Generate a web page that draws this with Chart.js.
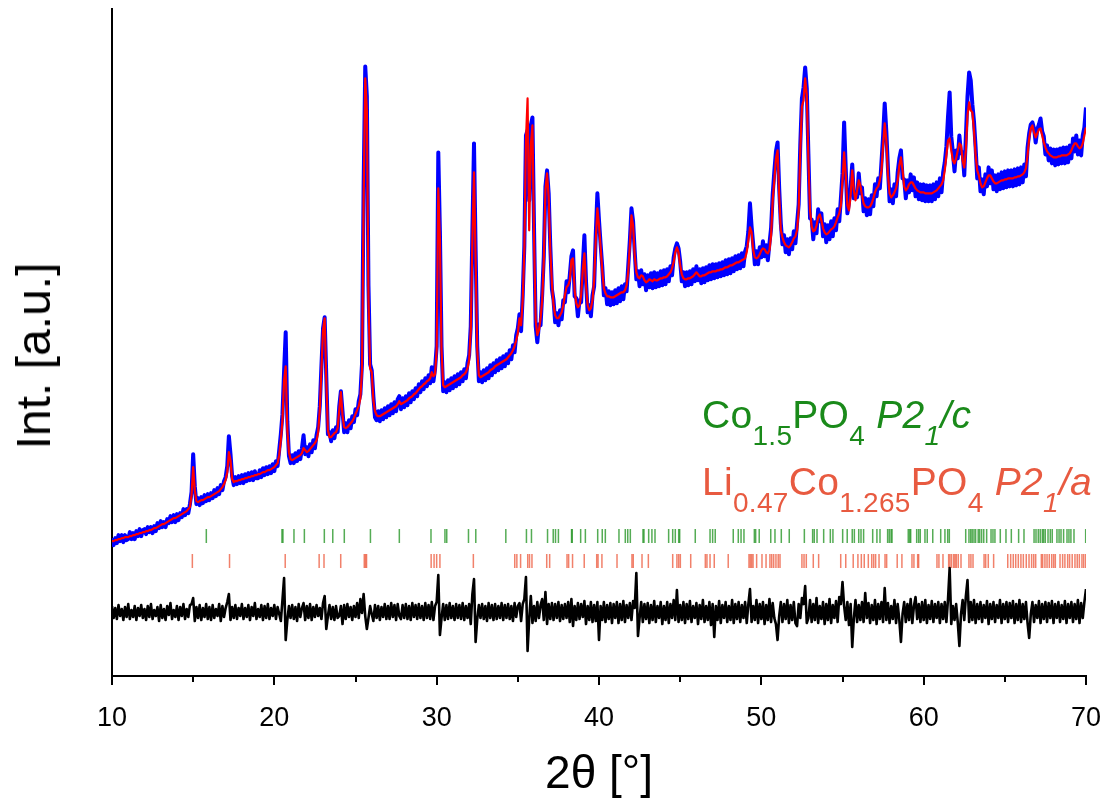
<!DOCTYPE html>
<html>
<head>
<meta charset="utf-8">
<script src="https://cdn.jsdelivr.net/npm/chart.js@4.4.0/dist/chart.umd.min.js"></script>
<style>
  html, body { margin: 0; padding: 0; background: #fff; }
  #wrap { position: relative; width: 1110px; height: 800px; font-family: "Liberation Sans", Arial, sans-serif; }
  #wrap canvas { position: absolute; left: 0; top: 0; }
  .lbl { position: absolute; white-space: nowrap; line-height: 1; color: #000; }
  .axis-x { left: 112px; width: 974px; top: 749px; text-align: center; font-size: 46px; }
  .axis-y { left: 34px; top: 356px; font-size: 48px; transform: translate(-50%, -50%) rotate(-90deg); }
  .phase { left: 702px; font-size: 39px; letter-spacing: 0.3px; }
  .phase sub { font-size: 28px; line-height: 0; vertical-align: -17px; }
  .co15 { top: 395px; color: #1a8a1a; }
  .lico { top: 462px; color: #e85a40; }
</style>
</head>
<body>
<div id="wrap">
  <canvas id="xrd" width="1110" height="800"></canvas>
  <div class="lbl axis-x">2θ [°]</div>
  <div class="lbl axis-y">Int. [a.u.]</div>
  <div class="lbl phase co15">Co<sub>1.5</sub>PO<sub>4</sub> <i>P2<sub>1</sub>/c</i></div>
  <div class="lbl phase lico">Li<sub>0.47</sub>Co<sub>1.265</sub>PO<sub>4</sub> <i>P2<sub>1</sub>/a</i></div>
</div>
<script>
// Rietveld refinement: observed, calculated and difference profiles,
// scan from 10° to 70° 2θ at 0.1° steps (intensities in arbitrary units).
const scanStart = 10;
const scanStep = 0.1;

const yObs = [
  138,131,138,133,141,135,141,134,141,136,
  137,144,137,143,137,145,140,147,140,146,
  147,142,149,144,149,143,150,145,153,148,
  155,149,154,149,157,153,160,154,161,154,
  162,156,163,159,167,161,167,163,172,184,
  222,190,172,178,171,179,173,181,175,182,
  176,183,178,186,180,188,182,191,186,195,
  199,210,240,222,200,191,199,192,200,193,
  201,193,202,195,203,196,204,196,205,198,
  198,206,199,208,201,209,202,210,203,212,
  205,215,210,226,242,262,305,344,255,220,
  213,221,213,223,215,225,217,228,241,222,
  229,220,232,224,236,228,241,249,270,310,
  348,359,300,242,244,235,246,238,249,244,
  270,285,265,244,253,244,256,248,260,254,
  267,261,275,282,312,490,610,580,390,312,
  306,280,259,256,265,255,266,257,268,259,
  270,261,272,263,274,265,277,280,267,278,
  269,280,271,283,274,285,277,288,280,292,
  284,295,287,298,290,301,293,309,295,307,
  330,524,445,330,285,294,284,296,286,298,
  288,300,290,302,292,304,295,307,298,313,
  321,350,445,533,425,330,295,304,294,306,
  296,308,298,311,301,313,304,316,306,318,
  308,320,310,322,313,326,317,331,324,341,
  348,362,345,381,430,541,546,476,551,559,
  446,350,334,352,351,382,420,490,506,483,
  430,387,376,354,363,351,366,357,376,374,
  395,384,401,420,426,380,378,360,376,374,
  410,441,395,364,371,360,381,390,442,483,
  456,432,410,381,388,372,385,371,384,372,
  386,373,388,375,390,377,392,385,410,436,
  468,455,425,397,405,390,406,392,402,386,
  401,389,403,388,404,389,403,390,405,391,
  406,392,407,395,410,401,419,428,433,428,
  415,395,404,390,404,391,405,392,407,395,
  410,396,407,393,408,394,409,396,411,397,
  412,398,412,399,413,400,414,401,416,402,
  417,403,418,405,420,407,421,408,423,410,
  425,430,445,473,450,432,412,425,412,429,
  419,435,420,431,416,433,448,482,505,525,
  534,488,453,432,441,424,437,422,438,427,
  445,433,453,472,532,578,589,609,588,522,
  458,457,437,454,443,467,455,463,440,452,
  434,451,437,455,440,458,446,467,455,478,
  503,554,508,463,474,489,512,478,484,479,
  503,483,489,465,478,461,477,462,481,470,
  492,480,498,488,514,540,573,545,508,475,
  487,473,492,480,504,518,526,498,497,478,
  496,484,502,486,499,480,494,477,492,476,
  492,475,491,475,491,475,492,477,494,480,
  498,484,504,514,530,560,584,540,524,505,
  526,518,541,523,524,501,540,580,604,596,
  572,555,529,498,509,485,497,482,502,490,
  509,493,506,487,501,485,502,487,504,488,
  505,489,506,490,506,490,507,491,508,492,
  509,494,512,500,529,543,552,554,548,534,
  547,552,558,545,540,522,531,516,528,513,
  527,511,527,512,528,513,529,513,529,514,
  531,518,538,525,541,522,536,521,541,549,
  569
];

const yCalc = [
  135,135,136,136,137,137,138,138,139,139,
  139,140,140,141,141,142,142,143,143,144,
  144,145,145,146,146,147,148,148,149,150,
  151,152,152,153,154,155,156,157,158,158,
  159,160,161,162,163,164,165,167,169,181,
  209,186,175,174,175,176,176,177,178,179,
  179,180,181,182,183,184,185,187,189,192,
  196,204,224,216,197,194,195,195,196,196,
  197,197,198,198,199,199,200,200,201,201,
  202,202,203,204,204,205,206,206,207,208,
  209,211,213,221,236,256,296,310,246,224,
  217,216,217,218,219,220,221,223,228,226,
  224,225,227,229,231,233,236,244,266,306,
  346,358,296,246,239,239,241,243,244,248,
  266,284,261,249,248,249,251,253,255,258,
  262,266,270,278,306,476,598,566,376,308,
  304,276,265,261,260,260,261,262,263,264,
  265,266,267,268,269,270,272,275,272,273,
  274,275,276,278,279,280,282,283,285,287,
  289,290,292,293,295,296,298,304,300,302,
  326,488,436,326,291,289,290,291,292,293,
  294,295,296,297,298,299,301,302,304,308,
  316,346,436,504,416,326,301,299,300,301,
  302,303,304,306,307,308,310,311,312,313,
  314,315,316,317,319,321,323,326,330,336,
  343,358,351,376,426,536,578,446,531,551,
  436,356,341,346,358,376,416,486,503,479,
  426,393,371,361,358,358,361,364,371,381,
  389,391,396,416,418,386,373,369,371,381,
  406,423,391,371,366,368,376,396,436,468,
  451,429,406,388,383,380,380,379,379,379,
  380,381,382,383,384,384,386,391,404,431,
  461,451,421,404,399,398,401,400,396,394,
  395,397,396,395,397,396,396,397,398,398,
  399,399,400,402,404,408,414,424,429,424,
  411,402,398,397,397,398,398,399,400,402,
  404,402,400,400,401,401,402,403,404,404,
  405,405,405,406,406,407,407,408,409,409,
  410,411,411,412,413,414,414,415,416,417,
  418,424,436,449,444,426,419,418,419,422,
  426,428,427,424,423,426,441,476,496,518,
  526,481,446,439,434,431,430,429,431,434,
  438,440,446,466,526,570,576,598,581,516,
  466,450,445,446,451,459,462,456,448,444,
  442,443,445,447,448,450,454,459,463,471,
  496,524,501,471,466,481,506,486,476,486,
  496,491,481,473,470,469,469,470,473,478,
  484,488,490,496,506,531,553,536,501,483,
  479,481,484,488,496,511,519,506,490,486,
  488,492,494,494,491,488,486,485,484,484,
  484,483,483,483,483,483,484,485,486,488,
  490,492,496,506,521,536,538,526,516,513,
  518,526,533,531,516,509,526,561,574,566,
  564,546,521,506,501,493,489,490,494,498,
  501,501,498,495,493,493,494,495,496,496,
  497,497,498,498,498,498,499,499,500,500,
  501,502,504,508,521,538,548,551,544,539,
  543,547,548,541,534,529,525,523,521,520,
  519,519,519,520,520,521,521,521,521,522,
  523,526,530,533,533,530,528,529,533,541,
  549
];

// Obs - calc, shifted below the profiles
const yDiff = [
  70,58,68,57,71,60,67,56,69,59,
  72,57,66,59,70,56,68,60,71,58,
  67,56,70,59,72,57,66,60,69,55,
  71,58,67,56,70,61,73,57,66,59,
  70,56,69,60,72,57,67,59,71,72,
  78,55,69,58,71,56,68,59,72,57,
  69,56,71,58,67,60,72,55,70,59,
  68,74,82,56,69,58,71,57,68,60,
  72,57,68,59,71,56,69,60,73,57,
  67,59,71,56,70,58,72,57,68,60,
  71,57,69,62,55,76,98,36,56,70,
  58,71,57,69,55,72,59,68,73,56,
  70,58,72,56,69,59,71,60,68,57,
  73,80,47,60,71,57,69,56,70,58,
  60,70,52,71,57,72,59,69,56,70,
  59,73,58,77,63,82,60,47,58,70,
  62,55,71,58,70,56,69,59,72,57,
  70,57,73,59,71,56,72,60,57,71,
  58,72,57,70,56,73,59,71,57,72,
  58,70,56,73,58,71,57,74,56,70,
  74,101,41,58,72,56,71,57,73,58,
  70,56,72,58,71,57,73,56,70,58,
  72,52,82,97,34,57,71,58,72,57,
  70,55,73,58,71,56,72,57,70,58,
  73,56,71,58,72,57,70,55,73,59,
  70,73,55,72,77,99,25,57,80,53,
  70,55,74,58,71,77,56,84,52,72,
  57,73,56,72,58,74,55,71,57,72,
  58,74,54,77,50,70,56,73,57,72,
  59,75,52,70,56,74,54,71,55,74,
  36,70,56,74,54,71,57,73,53,72,
  58,74,53,72,56,75,54,71,58,73,
  56,75,68,103,40,58,74,54,72,57,
  73,53,71,56,75,54,70,58,74,52,
  70,56,74,53,72,58,76,56,86,54,
  71,56,74,53,72,57,75,54,70,58,
  73,52,71,57,76,54,70,56,74,51,
  72,39,70,56,75,53,71,58,74,54,
  70,56,76,53,72,57,74,54,71,58,
  74,53,72,87,54,70,56,76,53,72,
  57,74,52,71,56,77,54,73,58,52,
  36,60,74,54,72,57,76,53,71,56,
  74,53,50,72,58,78,72,90,53,58,
  76,54,72,56,78,53,70,57,74,52,
  72,56,77,53,71,58,75,54,79,72,
  94,70,56,74,51,72,29,58,76,54,
  71,56,74,54,83,58,73,53,71,56,
  76,52,72,57,74,54,88,56,73,53,
  70,57,76,53,72,56,34,62,74,54,
  72,56,77,53,70,79,57,72,54,74,
  56,76,53,71,57,75,54,72,58,74,
  53,72,57,74,54,77,108,52,70,56,
  72,54,30,62,76,56,80,96,54,74,
  56,76,53,72,57,74,54,71,58,75,
  52,72,57,74,54,71,58,76,53,72,
  57,74,54,73,58,75,53,72,56,76,
  54,72,57,74,53,38,62,74,54,71,
  58,75,53,72,57,74,54,73,58,75,
  53,72,58,74,54,71,57,75,53,72,
  58,74,54,72,57,76,53,73,58,74,
  87
];

// Bragg reflection positions [° 2θ]
const braggCo15PO4 = [
  15.81, 20.47, 20.53, 21.21, 21.85, 23.08, 23.60, 24.31, 25.92, 27.70,
  29.65, 30.51, 30.62, 31.96, 32.41, 34.26, 35.53, 35.84, 36.83, 37.18,
  37.32, 37.50, 38.31, 38.35, 38.87, 39.16, 39.92, 40.20, 40.39, 41.23,
  41.62, 41.77, 41.93, 42.71, 42.77, 43.06, 43.26, 43.45, 44.29, 44.54,
  44.70, 44.91, 44.97, 45.93, 46.84, 47.00, 47.16, 48.27, 48.58, 48.75,
  48.93, 49.57, 49.65, 49.87, 50.58, 50.84, 51.23, 51.72, 52.65, 53.16,
  53.26, 53.43, 53.84, 54.25, 54.41, 55.01, 55.29, 55.60, 55.73, 56.00,
  56.14, 56.30, 56.86, 57.12, 57.31, 57.78, 57.88, 57.99, 58.05, 59.05,
  59.14, 59.20, 59.57, 59.69, 59.79, 60.08, 60.22, 60.56, 61.05, 61.31,
  61.48, 61.58, 62.59, 62.79, 62.90, 62.99, 63.10, 63.20, 63.36, 63.45,
  63.57, 63.70, 63.88, 64.15, 64.27, 64.39, 64.72, 65.07, 65.40, 65.85,
  66.18, 66.80, 66.92, 67.06, 67.18, 67.31, 67.39, 67.49, 67.66, 67.80,
  67.92, 68.21, 68.34, 68.46, 68.62, 68.83, 68.95, 69.07, 69.26, 69.98
];

const braggLiCoPO4 = [
  14.95, 17.24, 20.67, 22.76, 23.06, 24.09, 25.54, 25.62, 25.68, 29.66,
  29.84, 30.00, 30.20, 32.26, 34.81, 34.94, 35.17, 35.61, 35.72, 35.87,
  36.78, 36.96, 38.03, 38.13, 38.37, 39.09, 39.86, 39.94, 40.18, 41.11,
  42.03, 42.11, 42.65, 43.04, 44.54, 44.80, 44.91, 45.01, 45.65, 46.55,
  46.65, 46.84, 47.10, 47.96, 49.24, 49.32, 49.41, 49.49, 49.71, 50.04,
  50.29, 50.53, 50.64, 50.76, 50.90, 51.04, 51.15, 52.50, 52.63, 52.77,
  53.20, 53.53, 54.89, 55.20, 55.66, 55.95, 56.16, 56.34, 56.59, 56.80,
  56.92, 57.04, 57.25, 57.62, 57.72, 58.37, 58.66, 59.28, 59.40, 59.63,
  59.69, 60.82, 60.94, 61.19, 61.54, 61.62, 61.72, 61.85, 61.93, 62.01,
  62.13, 62.30, 62.79, 62.91, 63.04, 63.72, 63.82, 63.98, 64.31, 65.18,
  65.36, 65.52, 65.67, 65.83, 65.99, 66.14, 66.32, 66.49, 66.65, 66.78,
  66.90, 67.25, 67.33, 67.47, 67.60, 67.74, 67.89, 68.01, 68.11, 68.40,
  68.56, 68.70, 68.87, 68.99, 69.15, 69.32, 69.46, 69.59, 69.75, 69.86,
  69.98
];

const majorTicks = [10, 20, 30, 40, 50, 60, 70];
const minorTicks = [15, 25, 35, 45, 55, 65];

// ---------- series for Chart.js ----------

const onScan = (arr) => arr.map((y, i) => ({ x: +(scanStart + i * scanStep).toFixed(1), y }));
const onRow = (positions, level) => positions.map((x) => ({ x, y: level }));

// short unlabelled minor ticks between the numbered ones
const minorTickPlugin = {
  id: 'minorTicks',
  afterDraw(chart) {
    const { ctx } = chart;
    const xs = chart.scales.x;
    ctx.save();
    ctx.strokeStyle = '#000';
    ctx.lineWidth = 2;
    minorTicks.forEach((v) => {
      const px = Math.round(xs.getPixelForValue(v));
      ctx.beginPath();
      ctx.moveTo(px, xs.top);
      ctx.lineTo(px, xs.top + 6);
      ctx.stroke();
    });
    ctx.restore();
  },
};

function tickRow(label, positions, level, colour) {
  return {
    label,
    data: onRow(positions, level),
    showLine: false,
    pointStyle: 'line',
    pointRotation: 90,
    pointRadius: 7,
    pointBorderWidth: 1.5,
    pointBorderColor: colour,
    borderColor: colour,
    order: 3,
  };
}

new Chart(document.getElementById('xrd'), {
  type: 'line',
  data: {
    datasets: [
      {
        label: 'Y calc',
        data: onScan(yCalc),
        borderColor: '#ff0000',
        borderWidth: 2.2,
        order: 0,
      },
      {
        label: 'Y obs',
        data: onScan(yObs),
        borderColor: '#0000ff',
        borderWidth: 4,
        order: 1,
      },
      {
        label: 'Y obs - Y calc',
        data: onScan(yDiff),
        borderColor: '#000000',
        borderWidth: 2.6,
        order: 2,
      },
      tickRow('Co1.5PO4', braggCo15PO4, 140, 'rgba(20,140,20,0.72)'),
      tickRow('Li0.47Co1.265PO4', braggLiCoPO4, 115, 'rgba(235,80,50,0.72)'),
    ],
  },
  options: {
    responsive: false,
    devicePixelRatio: 1,
    animation: false,
    events: [],
    layout: { padding: { top: 8, right: 24, bottom: 0, left: 0 } },
    elements: {
      point: { radius: 0 },
      line: { tension: 0, borderJoinStyle: 'round', fill: false },
    },
    plugins: { legend: { display: false }, tooltip: { enabled: false } },
    scales: {
      x: {
        type: 'linear',
        min: 10,
        max: 70,
        afterFit(s) {
          s.height = 124;
          // keep the end labels from pushing the plot edges inwards
          s.paddingLeft = 0;
          s.paddingRight = 0;
        },
        afterBuildTicks(s) { s.ticks = majorTicks.map((value) => ({ value })); },
        border: { display: true, color: '#000', width: 2 },
        grid: { display: true, drawOnChartArea: false, drawTicks: true, tickLength: 9, color: '#000', lineWidth: 2 },
        ticks: {
          color: '#000',
          padding: 17,
          maxRotation: 0,
          autoSkip: false,
          font: { family: '"Liberation Sans", Arial, sans-serif', size: 27 },
        },
      },
      y: {
        type: 'linear',
        min: 0,
        max: 668,
        afterFit(s) { s.width = 112; },
        border: { display: true, color: '#000', width: 2 },
        grid: { display: false },
        ticks: { display: false },
      },
    },
  },
  plugins: [minorTickPlugin],
});
</script>
</body>
</html>
